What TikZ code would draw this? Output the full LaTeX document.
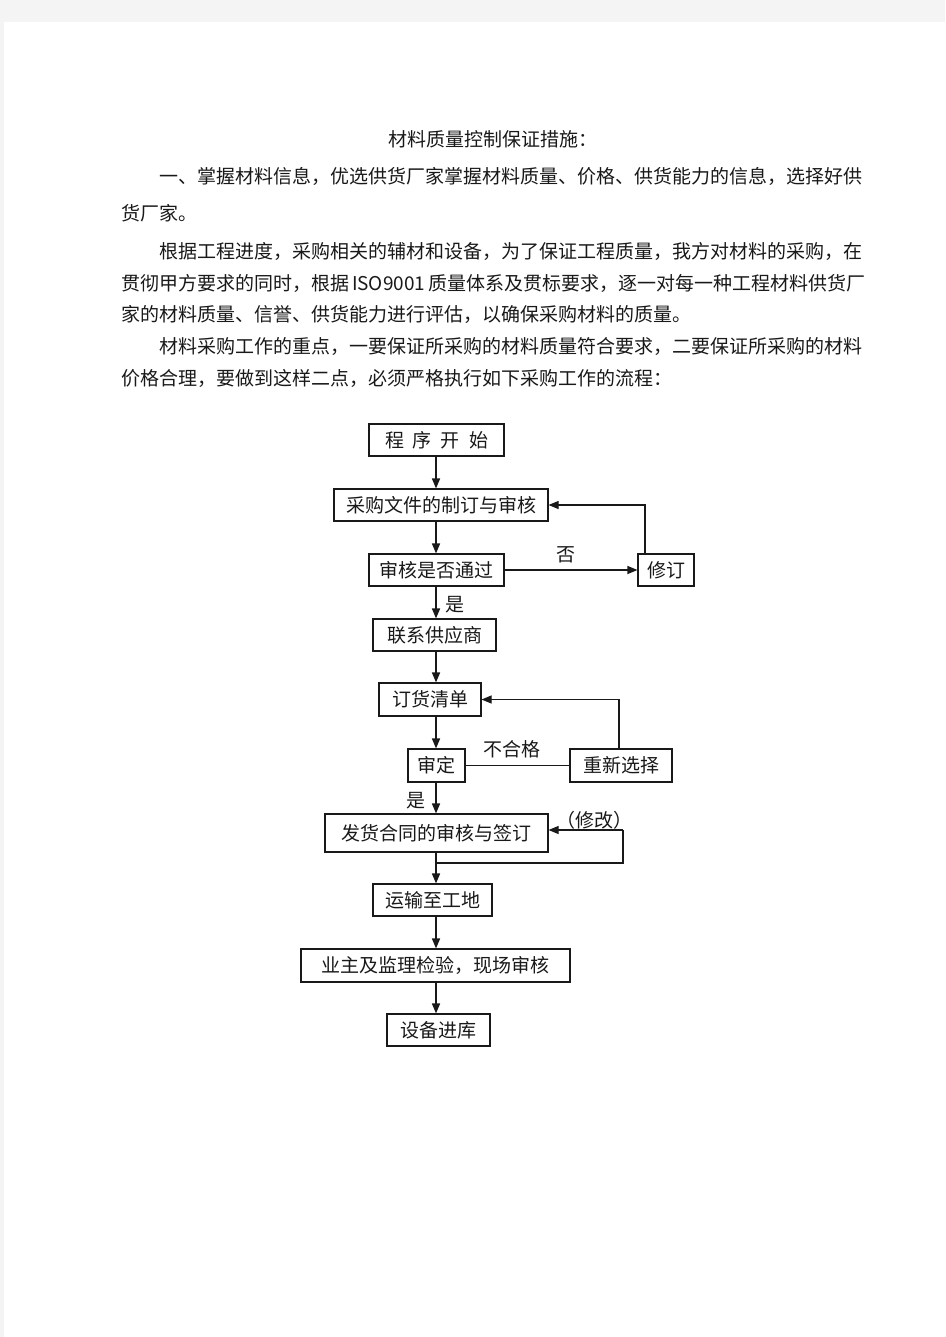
\documentclass[tikz,border=0pt]{standalone}
\usepackage{fontspec}
\setmainfont{Noto Sans CJK SC}
\usetikzlibrary{arrows.meta}
\definecolor{pagebg}{RGB}{244,244,244}
\definecolor{ink}{RGB}{25,25,25}
\newcommand{\fs}{\fontsize{19pt}{19pt}\selectfont}
\begin{document}
\begin{tikzpicture}[x=1pt,y=-1pt,
  every node/.style={inner sep=0pt, font=\fs, text=ink},
  box/.style={draw=ink, line width=1.1pt, minimum height=32pt},
  arr/.style={draw=ink, line width=1.6pt, -{Triangle[length=10pt,width=8pt]}},
  thinarr/.style={draw=ink, line width=1.1pt, -{Triangle[length=10pt,width=8pt]}},
  thinline/.style={draw=ink, line width=1.1pt}]
\fill[pagebg] (0,0) rectangle (945,1337);
\fill[white] (4,22) rectangle (945,1337);
\useasboundingbox (0,0) rectangle (945,1337);

% text
\node[anchor=west] (title) at (388,139) {材料质量控制保证措施：};
\node[anchor=west] (p1a) at (159,176) {一、掌握材料信息，优选供货厂家掌握材料质量、价格、供货能力的信息，选择好供};
\node[anchor=west] (p1b) at (121,213) {货厂家。};
\node[anchor=west] (p2a) at (159,251) {根据工程进度，采购相关的辅材和设备，为了保证工程质量，我方对材料的采购，在};
\node[anchor=west] (p2b) at (121,283) {\makebox[741pt][s]{贯彻甲方要求的同时，根据 ISO9001 质量体系及贯标要求，逐一对每一种工程材料供货厂}};
\node[anchor=west] (p2c) at (121,314) {家的材料质量、信誉、供货能力进行评估，以确保采购材料的质量。};
\node[anchor=west] (p3a) at (159,346) {材料采购工作的重点，一要保证所采购的材料质量符合要求，二要保证所采购的材料};
\node[anchor=west] (p3b) at (121,378) {价格合理，要做到这样二点，必须严格执行如下采购工作的流程：};

% flowchart nodes
\node[box, minimum width=135pt] (start) at (436.5,440) {程\hspace{9pt}序\hspace{9pt}开\hspace{9pt}始};
\node[box, minimum width=214pt] (doc) at (441,505) {采购文件的制订与审核};
\node[box, minimum width=135pt] (check) at (436.5,570) {审核是否通过};
\node[box, minimum width=56pt] (revise) at (666,570) {修订};
\node[box, minimum width=123pt] (contact) at (434.5,635) {联系供应商};
\node[box, minimum width=102pt, minimum height=33pt] (order) at (430,699.5) {订货清单};
\node[box, minimum width=57pt, minimum height=33pt] (approve) at (436.5,765.5) {审定};
\node[box, minimum width=102pt, minimum height=33pt] (reselect) at (621,765.5) {重新选择};
\node[box, minimum width=223pt, minimum height=38pt] (contract) at (436.5,833) {发货合同的审核与签订};
\node[box, minimum width=119pt] (transport) at (432.5,900) {运输至工地};
\node[box, minimum width=269pt, minimum height=33pt] (inspect) at (435.5,965.5) {业主及监理检验，现场审核};
\node[box, minimum width=103pt] (store) at (438.5,1030) {设备进库};

% helper coordinates
\coordinate (spine) at (436,0);
\coordinate (c1) at (645,505);
\coordinate (c2) at (619,699.5);
\coordinate (c3a) at (436,863);
\coordinate (c3b) at (623,863);
\coordinate (c3c) at (623,830);

% main flow
\draw[arr] (start.south -| spine) -- (doc.north -| spine);
\draw[arr] (doc.south -| spine) -- (check.north -| spine);
\draw[arr] (check.south -| spine) -- (contact.north -| spine);
\draw[arr] (contact.south -| spine) -- (order.north -| spine);
\draw[arr] (order.south -| spine) -- (approve.north -| spine);
\draw[arr] (approve.south -| spine) -- (contract.north -| spine);
\draw[arr] (contract.south -| spine) -- (transport.north -| spine);
\draw[arr] (transport.south -| spine) -- (inspect.north -| spine);
\draw[arr] (inspect.south -| spine) -- (store.north -| spine);

% branches
\draw[thinarr] (check.east) -- (revise.west);
\draw[thinarr] (revise.north -| c1) -- (c1) -- (doc.east);
\draw[thinline] (approve.east) -- (reselect.west);
\draw[thinarr] (reselect.north -| c2) -- (c2) -- (order.east);
\draw[thinline] (c3a) -- (c3b) -- (c3c);
\draw[thinarr] (c3c) -- (contract.east |- c3c);

% labels
\node (lno) at (566,555) {否};
\node (lyes1) at (455,605) {是};
\node (lfail) at (512,749) {不合格};
\node (lyes2) at (416,801) {是};
\node (lmod) at (594,820) {（修改）};
\end{tikzpicture}
\end{document}
